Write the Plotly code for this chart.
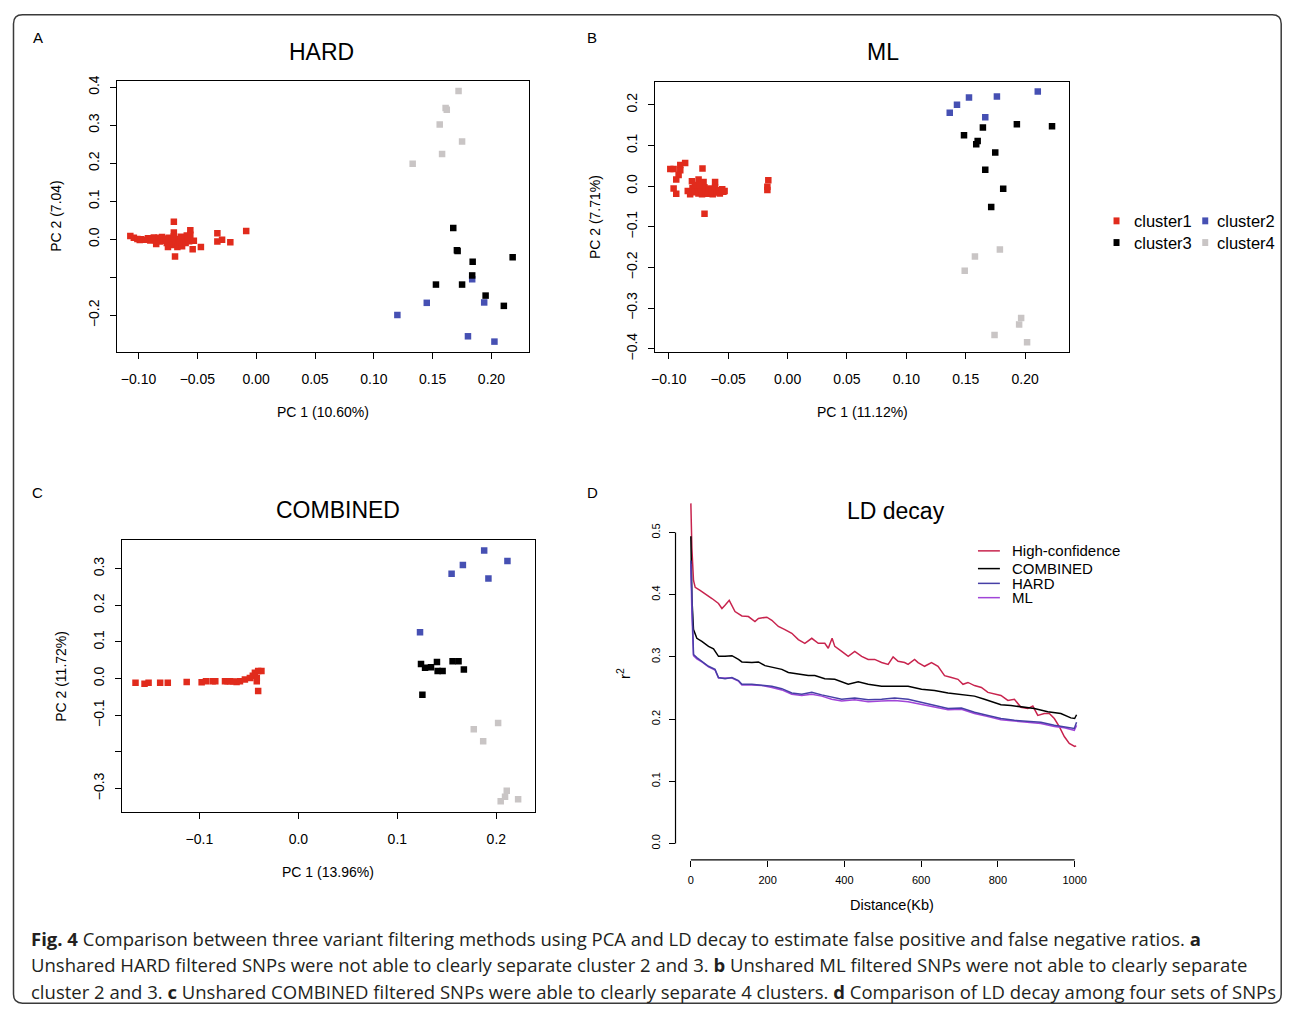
import plotly.graph_objects as go

# The page keeps the browser's default 8px body margin, so the figure is sized to fit exactly
# inside a 1290x1021 window; all placements below are given in window pixels.
PAGE_MARGIN = 8
W, H = 1290 - 2 * PAGE_MARGIN, 1021 - 2 * PAGE_MARGIN

# ---------------- DATA ----------------
# Panel A (HARD)
hard_c1_x = [-0.107, -0.104, -0.101, -0.099, -0.098, -0.094, -0.092, -0.090, -0.089, -0.087, -0.086,
             -0.085, -0.083, -0.082, -0.081, -0.080, -0.079, -0.077, -0.076, -0.075, -0.074, -0.073,
             -0.072, -0.071, -0.070, -0.070, -0.070, -0.069, -0.069, -0.068, -0.067, -0.066, -0.065,
             -0.064, -0.063, -0.062, -0.061, -0.060, -0.059, -0.058, -0.057, -0.056, -0.056, -0.054,
             -0.053, -0.047, -0.033, -0.033, -0.029, -0.022, -0.0085]
hard_c1_y = [0.009, 0.004, 0.001, -0.002, 0.000, -0.001, 0.003, -0.003, 0.001, 0.005, -0.002,
             -0.012, 0.004, -0.006, 0.000, 0.006, -0.004, 0.002, -0.010, -0.020, 0.004, -0.006,
             0.001, -0.015, 0.046, 0.018, 0.008, -0.045, -0.004, -0.012, -0.020, 0.001, -0.008,
             0.007, -0.018, -0.003, 0.004, -0.010, 0.010, 0.002, -0.005, 0.024, 0.012, -0.026,
             -0.004, -0.020, 0.016, -0.006, -0.001, -0.008, 0.022]
hard_c2_x = [0.1836, 0.1938, 0.145, 0.120, 0.180, 0.2025]
hard_c2_y = [-0.105, -0.166, -0.167, -0.199, -0.255, -0.269]
hard_c3_x = [0.1675, 0.1706, 0.1712, 0.184, 0.218, 0.1836, 0.1528, 0.175, 0.195, 0.2105]
hard_c3_y = [0.030, -0.029, -0.031, -0.059, -0.047, -0.095, -0.119, -0.119, -0.148, -0.175]
hard_c4_x = [0.172, 0.161, 0.162, 0.156, 0.175, 0.158, 0.133]
hard_c4_y = [0.390, 0.345, 0.341, 0.302, 0.257, 0.224, 0.199]

# Panel B (ML)
ml_c1_x = [-0.0987, -0.0959, -0.0903, -0.0862, -0.0903, -0.0917, -0.0937, -0.0716, -0.0959, -0.0937,
           -0.0805, -0.0749, -0.0707, -0.061, -0.0699, -0.0162, -0.017, -0.017,
           -0.084, -0.082, -0.080, -0.078, -0.076, -0.075, -0.073, -0.072, -0.070, -0.069, -0.067,
           -0.066, -0.064, -0.063, -0.061, -0.060, -0.058, -0.057, -0.055, -0.054, -0.053, -0.078, -0.074]
ml_c1_y = [0.042, 0.042, 0.052, 0.0567, 0.039, 0.027, 0.016, 0.043, -0.006, -0.019,
           0.012, 0.016, 0.010, 0.010, -0.068, 0.0145, -0.0016, -0.0097,
           -0.012, -0.020, -0.005, -0.015, -0.002, -0.018, -0.008, -0.020, -0.003, -0.014, -0.019,
           -0.006, -0.012, -0.020, -0.004, -0.016, -0.010, -0.018, -0.008, -0.014, -0.012, 0.003, 0.002]
ml_c2_x = [0.1365, 0.1426, 0.1527, 0.1762, 0.2106, 0.1664]
ml_c2_y = [0.180, 0.200, 0.218, 0.220, 0.2325, 0.1695]
ml_c3_x = [0.1644, 0.1930, 0.2226, 0.1485, 0.160, 0.1588, 0.1748, 0.1664, 0.1815, 0.1714]
ml_c3_y = [0.1438, 0.1518, 0.147, 0.125, 0.111, 0.103, 0.0823, 0.0404, -0.0064, -0.0516]
ml_c4_x = [0.1787, 0.1577, 0.1491, 0.1966, 0.1949, 0.1742, 0.2016]
ml_c4_y = [-0.156, -0.173, -0.208, -0.324, -0.340, -0.366, -0.384]

# Panel C (COMBINED)
comb_c1_x = [-0.1645, -0.1554, -0.1513, -0.1396, -0.1319, -0.1128, -0.0977, -0.0933, -0.0866, -0.0839,
             -0.0741, -0.0715, -0.069, -0.0624, -0.059, -0.054, -0.049, -0.0439, -0.0406, -0.0373,
             -0.042, -0.042, -0.0406, -0.046, -0.0655]
comb_c1_y = [-0.011, -0.014, -0.011, -0.011, -0.011, -0.009, -0.0096, -0.0069, -0.0069, -0.0069,
             -0.0069, -0.0075, -0.0069, -0.009, -0.007, -0.0025, 0.002, 0.016, 0.021, 0.021,
             0.002, -0.007, -0.034, 0.008, -0.008]
comb_c2_x = [0.1877, 0.2112, 0.1662, 0.1548, 0.192, 0.1229]
comb_c2_y = [0.3495, 0.321, 0.310, 0.286, 0.273, 0.1263]
comb_c3_x = [0.1239, 0.128, 0.134, 0.140, 0.1407, 0.1457, 0.1558, 0.1618, 0.1672, 0.1253]
comb_c3_y = [0.040, 0.0296, 0.031, 0.045, 0.0207, 0.0207, 0.0476, 0.0476, 0.025, -0.044]
comb_c4_x = [0.2018, 0.1772, 0.1867, 0.2105, 0.2088, 0.2044, 0.222]
comb_c4_y = [-0.121, -0.138, -0.171, -0.306, -0.3225, -0.335, -0.329]

# Panel D (LD decay)
hc_kb = [0, 2.6, 6.9, 11.3, 24, 37, 55, 72, 81, 89, 100, 115, 133, 150, 167, 176, 198, 211, 228, 245,
         263, 280, 297, 315, 332, 349, 358, 368, 375, 393, 410, 427, 445, 462, 479, 497, 514, 527, 540,
         557, 566, 583, 592, 609, 627, 644, 661, 679, 696, 709, 722, 739, 757, 774, 791, 808, 826, 843,
         860, 878, 891, 904, 921, 934, 947, 960, 973, 986, 1000, 1004]
hc_r2 = [0.547, 0.476, 0.423, 0.412, 0.407, 0.402, 0.394, 0.386, 0.378, 0.383, 0.391, 0.373, 0.366,
         0.365, 0.357, 0.362, 0.364, 0.359, 0.349, 0.344, 0.338, 0.328, 0.322, 0.330, 0.322, 0.322,
         0.314, 0.330, 0.317, 0.309, 0.301, 0.309, 0.301, 0.296, 0.296, 0.291, 0.288, 0.300, 0.293,
         0.291, 0.288, 0.296, 0.291, 0.285, 0.291, 0.285, 0.270, 0.267, 0.264, 0.256, 0.259, 0.254,
         0.251, 0.243, 0.240, 0.238, 0.230, 0.232, 0.219, 0.217, 0.221, 0.206, 0.209, 0.209, 0.201,
         0.188, 0.172, 0.161, 0.156, 0.157]
comb_kb = [0, 2.6, 6.9, 15.6, 28.6, 46, 59, 72, 89, 107, 124, 133, 159, 176, 193, 219, 237, 254, 280,
           306, 323, 349, 375, 410, 436, 462, 497, 531, 566, 601, 635, 670, 705, 739, 765, 791, 808,
           834, 860, 895, 930, 964, 990, 1000, 1005]
comb_r2 = [0.494, 0.396, 0.344, 0.330, 0.325, 0.317, 0.313, 0.301, 0.301, 0.302, 0.296, 0.292, 0.291,
           0.292, 0.286, 0.283, 0.280, 0.275, 0.272, 0.270, 0.270, 0.265, 0.264, 0.256, 0.260, 0.256,
           0.253, 0.253, 0.253, 0.248, 0.246, 0.242, 0.239, 0.237, 0.232, 0.227, 0.223, 0.222, 0.220,
           0.217, 0.212, 0.209, 0.202, 0.201, 0.207]
hard_kb = [0, 2.6, 6.9, 15.6, 28.6, 46, 63, 72, 89, 107, 124, 133, 159, 185, 211, 237, 263, 289, 315,
           341, 367, 393, 427, 462, 497, 531, 566, 601, 635, 670, 705, 739, 774, 808, 843, 878, 912,
           947, 973, 999, 1005]
hard_r2 = [0.455, 0.381, 0.304, 0.299, 0.293, 0.285, 0.280, 0.267, 0.265, 0.267, 0.262, 0.256, 0.256,
           0.255, 0.253, 0.249, 0.242, 0.240, 0.243, 0.239, 0.235, 0.232, 0.234, 0.231, 0.232, 0.234,
           0.232, 0.227, 0.222, 0.217, 0.218, 0.211, 0.206, 0.201, 0.198, 0.197, 0.195, 0.190, 0.188,
           0.185, 0.195]
ml_kb = hard_kb
ml_r2 = [0.450, 0.370, 0.302, 0.297, 0.292, 0.284, 0.279, 0.266, 0.266, 0.266, 0.261, 0.255, 0.255,
         0.254, 0.251, 0.247, 0.240, 0.238, 0.240, 0.237, 0.232, 0.229, 0.231, 0.228, 0.229, 0.230,
         0.228, 0.224, 0.219, 0.215, 0.216, 0.209, 0.204, 0.199, 0.197, 0.195, 0.193, 0.188, 0.186,
         0.182, 0.190]

# tick labels
a_xticks = [-0.10, -0.05, 0.00, 0.05, 0.10, 0.15, 0.20]
a_xtext = ["−0.10", "−0.05", "0.00", "0.05", "0.10", "0.15", "0.20"]
a_yticks = [0.4, 0.3, 0.2, 0.1, 0.0, -0.2]
a_ytext = ["0.4", "0.3", "0.2", "0.1", "0.0", "−0.2"]
a_yminor = [-0.1]
b_xticks = a_xticks
b_xtext = a_xtext
b_yticks = [0.2, 0.1, 0.0, -0.1, -0.2, -0.3, -0.4]
b_ytext = ["0.2", "0.1", "0.0", "−0.1", "−0.2", "−0.3", "−0.4"]
c_xticks = [-0.1, 0.0, 0.1, 0.2]
c_xtext = ["−0.1", "0.0", "0.1", "0.2"]
c_yticks = [0.3, 0.2, 0.1, 0.0, -0.1, -0.3]
c_ytext = ["0.3", "0.2", "0.1", "0.0", "−0.1", "−0.3"]
c_yminor = [-0.2]
d_xticks = [0, 200, 400, 600, 800, 1000]
d_xtext = ["0", "200", "400", "600", "800", "1000"]
d_yticks = [0.0, 0.1, 0.2, 0.3, 0.4, 0.5]
d_ytext = ["0.0", "0.1", "0.2", "0.3", "0.4", "0.5"]

cluster_names = ["cluster1", "cluster2", "cluster3", "cluster4"]
ld_names = ["High-confidence", "COMBINED", "HARD", "ML"]

# ---------------- STYLE ----------------
FONT = "Liberation Sans, Arial, Helvetica, sans-serif"
CAPFONT = "Open Sans, Noto Sans, sans-serif"
CL_COLORS = ["#E12B1C", "#4650B3", "#000000", "#C9C5C5"]
LD_COLORS = ["#C8244E", "#000000", "#463FA6", "#A045D8"]


def fx(p):
    # window pixel x -> paper fraction
    return (p - PAGE_MARGIN) / W


def fy(p):
    # window pixel y -> paper fraction
    return 1 - (p - PAGE_MARGIN) / H


fig = go.Figure()

pca_sets = [
    ("x", "y", [(hard_c1_x, hard_c1_y), (hard_c2_x, hard_c2_y), (hard_c3_x, hard_c3_y), (hard_c4_x, hard_c4_y)]),
    ("x2", "y2", [(ml_c1_x, ml_c1_y), (ml_c2_x, ml_c2_y), (ml_c3_x, ml_c3_y), (ml_c4_x, ml_c4_y)]),
    ("x3", "y3", [(comb_c1_x, comb_c1_y), (comb_c2_x, comb_c2_y), (comb_c3_x, comb_c3_y), (comb_c4_x, comb_c4_y)]),
]
for xa, ya, groups in pca_sets:
    for k, (xs, ys) in enumerate(groups):
        fig.add_trace(go.Scatter(x=xs, y=ys, xaxis=xa, yaxis=ya, mode="markers", showlegend=False,
                                 name=cluster_names[k],
                                 marker=dict(symbol="square", size=6.5, color=CL_COLORS[k],
                                             line=dict(width=0))))

ld_sets = [(hc_kb, hc_r2), (comb_kb, comb_r2), (hard_kb, hard_r2), (ml_kb, ml_r2)]
for k in [0, 1, 3, 2]:
    xs, ys = ld_sets[k]
    fig.add_trace(go.Scatter(x=xs, y=ys, xaxis="x4", yaxis="y4", mode="lines", showlegend=False,
                             name=ld_names[k], line=dict(color=LD_COLORS[k], width=1.5)))


def box_axis(dom, rng, tv, tt, angle=0, standoff=None, minor_vals=None):
    d = dict(domain=dom, range=rng, tickvals=tv, ticktext=tt, ticks="outside", ticklen=6,
             tickwidth=1, tickcolor="black", showline=True, linecolor="black", linewidth=1.2,
             mirror=True, showgrid=False, zeroline=False,
             tickfont=dict(family=FONT, size=14, color="black"), tickangle=angle)
    if standoff is not None:
        d["ticklabelstandoff"] = standoff
    if minor_vals is not None:
        d["minor"] = dict(tickmode="array", tickvals=minor_vals, ticks="outside", ticklen=6,
                          tickwidth=1, tickcolor="black", showgrid=False)
    return d


layout = dict(
    width=W, height=H, margin=dict(l=0, r=0, t=0, b=0),
    paper_bgcolor="white", plot_bgcolor="white",
    xaxis=box_axis([fx(113), fx(527)], [-0.1186, 0.2322], a_xticks, a_xtext, 0, 8),
    yaxis=box_axis([fy(351), fy(76)], [-0.296, 0.4163], a_yticks, a_ytext, -90, 5, a_yminor),
    xaxis2=box_axis([fx(653), fx(1068)], [-0.1116, 0.2366], b_xticks, b_xtext, 0, 8),
    yaxis2=box_axis([fy(351), fy(76.7)], [-0.4075, 0.2567], b_yticks, b_ytext, -90, 5),
    xaxis3=box_axis([fx(118.3), fx(532.7)], [-0.1782, 0.2391], c_xticks, c_xtext, 0, 8),
    yaxis3=box_axis([fy(817.7), fy(542.3)], [-0.363, 0.3774], c_yticks, c_ytext, -90, 5, c_yminor),
)
layout["xaxis"]["anchor"] = "y"
layout["yaxis"]["anchor"] = "x"
layout["xaxis2"]["anchor"] = "y2"
layout["yaxis2"]["anchor"] = "x2"
layout["xaxis3"]["anchor"] = "y3"
layout["yaxis3"]["anchor"] = "x3"
layout["xaxis4"] = dict(domain=[fx(673.6), fx(1089.4)], range=[-40, 1040], anchor="y4",
                        tickvals=d_xticks, ticktext=d_xtext, ticks="outside", ticklen=6, tickwidth=1,
                        tickcolor="black", showline=False, showgrid=False, zeroline=False,
                        tickfont=dict(family=FONT, size=11, color="black"), ticklabelstandoff=4)
layout["yaxis4"] = dict(domain=[fy(866.7), fy(496.6)], range=[-0.0264, 0.56], anchor="x4",
                        tickvals=d_yticks, ticktext=d_ytext, ticks="outside", ticklen=6, tickwidth=1,
                        tickcolor="black", showline=False, showgrid=False, zeroline=False,
                        tickangle=-90, tickfont=dict(family=FONT, size=11, color="black"),
                        ticklabelstandoff=4)
fig.update_layout(**layout)

shapes = []
# R-style axis lines for panel D (span first to last tick only)
shapes.append(dict(type="line", xref="x4", yref="y4 domain", x0=0, x1=1000, y0=0, y1=0,
                   line=dict(color="black", width=1.2)))
shapes.append(dict(type="line", xref="x4 domain", yref="y4", x0=0, x1=0, y0=0, y1=0.5,
                   line=dict(color="black", width=1.2)))

# rounded frame around the figure (right/bottom kept just inside the drawable area)
L, T, R, B, r = 9.5, 8.8, 1281.2, 1012.2, 9


def P(x, y):
    return f"{fx(x):.5f},{fy(y):.5f}"


path = (f"M {P(L + r, T)} L {P(R - r, T)} Q {P(R, T)} {P(R, T + r)} L {P(R, B - r)} "
        f"Q {P(R, B)} {P(R - r, B)} L {P(L + r, B)} Q {P(L, B)} {P(L, B - r)} "
        f"L {P(L, T + r)} Q {P(L, T)} {P(L + r, T)} Z")
shapes.append(dict(type="path", xref="paper", yref="paper", path=path,
                   line=dict(color="#3a3a3a", width=1.5), fillcolor="rgba(0,0,0,0)"))

# cluster legend markers
leg_pos = [(1116, 218), (1205, 218), (1116, 240), (1205, 240)]
for k, (cx, cy) in enumerate(leg_pos):
    shapes.append(dict(type="rect", xref="paper", yref="paper",
                       x0=fx(cx - 3), x1=fx(cx + 3), y0=fy(cy + 3.5), y1=fy(cy - 3.5),
                       fillcolor=CL_COLORS[k], line=dict(width=0)))
# LD legend lines
ld_leg_y = [553, 571, 586, 600.5]
for k, yy in enumerate(ld_leg_y):
    shapes.append(dict(type="line", xref="paper", yref="paper", x0=fx(977), x1=fx(999),
                       y0=fy(yy), y1=fy(yy), line=dict(color=LD_COLORS[k], width=1.5)))
fig.update_layout(shapes=shapes)

ann = []


def text(x, y, s, size, xanchor="center", yanchor="middle", angle=0, family=FONT, color="black"):
    ann.append(dict(x=fx(x), y=fy(y), xref="paper", yref="paper", text=s, showarrow=False,
                    xanchor=xanchor, yanchor=yanchor, textangle=angle,
                    font=dict(family=family, size=size, color=color)))


# panel letters
text(34, 32, "A", 15)
text(590, 32, "B", 15)
text(34, 494, "C", 15)
text(590, 494, "D", 15)
# titles
text(318, 47, "HARD", 23)
text(882, 47, "ML", 23)
text(335, 512, "COMBINED", 23)
text(895, 513, "LD decay", 23)
# axis titles
text(320, 412, "PC 1 (10.60%)", 14)
text(52, 213, "PC 2 (7.04)", 14, angle=-90)
text(861, 412, "PC 1 (11.12%)", 14)
text(593, 214, "PC 2 (7.71%)", 14, angle=-90)
text(325, 879, "PC 1 (13.96%)", 14)
text(57, 680, "PC 2 (11.72%)", 14, angle=-90)
text(891, 913, "Distance(Kb)", 14.5)
text(621, 678, "r<sup>2</sup>", 15, angle=-90)
# cluster legend
text(1132, 218, cluster_names[0], 16.5, xanchor="left")
text(1215, 218, cluster_names[1], 16.5, xanchor="left")
text(1132, 240, cluster_names[2], 16.5, xanchor="left")
text(1215, 240, cluster_names[3], 16.5, xanchor="left")
# LD legend
for k, yy in enumerate(ld_leg_y):
    text(1009, yy, ld_names[k], 15, xanchor="left")
# caption
cap1 = ("<b>Fig. 4</b> Comparison between three variant filtering methods using PCA and LD decay to "
        "estimate false positive and false negative ratios. <b>a</b>")
cap2 = ("Unshared HARD filtered SNPs were not able to clearly separate cluster 2 and 3. <b>b</b> "
        "Unshared ML filtered SNPs were not able to clearly separate")
cap3 = ("cluster 2 and 3. <b>c</b> Unshared COMBINED filtered SNPs were able to clearly separate 4 "
        "clusters. <b>d</b> Comparison of LD decay among four sets of SNPs")
text(25, 947, cap1, 18.5, xanchor="left", family=CAPFONT, color="#231f20")
text(25, 973, cap2, 18.5, xanchor="left", family=CAPFONT, color="#231f20")
text(25, 1000, cap3, 18.5, xanchor="left", family=CAPFONT, color="#231f20")
fig.update_layout(annotations=ann)

fig.write_html("out.html", config={"displayModeBar": False})
